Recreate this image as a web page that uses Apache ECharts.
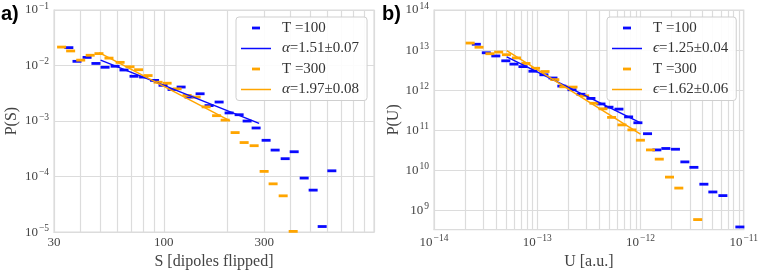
<!DOCTYPE html>
<html>
<head>
<meta charset="utf-8">
<script src="https://cdn.jsdelivr.net/npm/echarts@6/dist/echarts.min.js"></script>
<style>html,body{margin:0;padding:0;background:#fff}#c{width:761px;height:275px}</style>
</head>
<body>
<div id="c"></div>
<script>
// ---- Panel a: avalanche size S ----
const sA100 = [35.3, 38.6, 43.1, 47.5, 52.5, 58.6, 64.6, 72.1, 80.1, 90.3, 99.1, 109.4, 120.8, 131.8, 148.7, 164.1, 183.2, 204.4, 228.1, 249, 274.8, 306.6, 338.5, 377.8, 417, 465.3, 513.3, 566.8, 630];
const pA100 = [0.0210, 0.0119, 0.0140, 0.0109, 0.0093, 0.0097, 0.0083, 0.0064, 0.0062, 0.0054, 0.0044, 0.0037, 0.0041, 0.0027, 0.0031, 0.0019, 0.0022, 0.0014, 0.0013, 0.0010, 7.5e-4, 4.5e-4, 3.0e-4, 2.1e-4, 2.8e-4, 9.4e-5, 5.7e-5, 1.26e-5, 1.27e-4];
const sA300 = [32.6, 36.0, 40.2, 44.6, 49.1, 54.8, 61.9, 69.0, 75.8, 84.1, 93.8, 103.6, 115.6, 129, 142.4, 158.9, 178.2, 195.7, 218.3, 241, 268.9, 300, 331, 369.6, 412.5];
const pA300 = [0.0215, 0.0183, 0.0125, 0.0153, 0.0164, 0.0136, 0.0114, 0.0095, 0.0084, 0.0066, 0.0050, 0.0048, 0.0038, 0.0029, 0.0027, 0.0018, 0.00125, 0.00104, 6.2e-4, 4.1e-4, 3.6e-4, 1.24e-4, 7.4e-5, 4.5e-5, 1.03e-5];
const fitSA100 = [50, 284], fitPA100 = [0.0125, 9.1e-4];
const fitSA300 = [49.2, 206.6], fitPA300 = [0.0171, 1.01e-3];

// ---- Panel b: energy U ----
const uB100 = [2.57e-14, 3.21e-14, 3.97e-14, 4.96e-14, 5.95e-14, 7.27e-14, 9.09e-14, 1.16e-13, 1.42e-13, 1.73e-13, 2.17e-13, 2.65e-13, 3.31e-13, 4.14e-13, 4.95e-13, 6.18e-13, 7.67e-13, 9.44e-13, 1.17e-12, 1.44e-12, 1.76e-12, 2.18e-12, 2.69e-12, 3.29e-12, 4.11e-12, 5.02e-12, 6.28e-12, 9.17e-12];
const pB100 = [1.40e13, 8.60e12, 7.15e12, 5.42e12, 4.48e12, 3.88e12, 2.98e12, 2.43e12, 2.02e12, 1.27e12, 1.03e12, 7.96e11, 6.26e11, 4.56e11, 3.79e11, 3.39e11, 2.17e11, 1.55e11, 8.27e10, 3.26e10, 3.54e10, 3.39e10, 1.64e10, 1.20e10, 4.56e9, 2.92e9, 2.37e9, 3.92e8];
const uB300 = [2.24e-14, 2.73e-14, 3.48e-14, 4.23e-14, 5.03e-14, 6.29e-14, 7.77e-14, 9.63e-14, 1.19e-13, 1.48e-13, 1.81e-13, 2.22e-13, 2.88e-13, 3.54e-13, 4.33e-13, 5.25e-13, 6.61e-13, 8.26e-13, 9.98e-13, 1.25e-12, 1.52e-12, 1.91e-12, 2.35e-12, 3.58e-12];
const pB300 = [1.50e13, 1.18e13, 8.14e12, 8.94e12, 7.69e12, 6.40e12, 4.66e12, 3.53e12, 2.93e12, 1.84e12, 1.22e12, 1.20e12, 7.28e11, 4.74e11, 3.45e11, 2.11e11, 1.37e11, 1.03e11, 5.69e10, 3.26e10, 1.92e10, 6.85e9, 3.65e9, 5.99e8];
const fitUB100 = [5.06e-14, 1.025e-12], fitPB100 = [6.77e12, 1.49e11];
const fitUB300 = [5.06e-14, 1.0e-12], fitPB300 = [9.77e12, 8.1e10];

// ---- labels / ticks ----
const namesA = ['T =100', 'α=1.51±0.07', 'T =300', 'α=1.97±0.08'];
const namesB = ['T =100', 'ϵ=1.25±0.04', 'T =300', 'ϵ=1.62±0.06'];
const xTicksA = [30, 100, 300];
const yTicksA = [1e-5, 1e-4, 1e-3, 1e-2, 1e-1];
const xTicksB = [1e-14, 1e-13, 1e-12, 1e-11];
const yTicksB = [1e9, 1e10, 1e11, 1e12, 1e13, 1e14];

const pairs = (xs, ys) => xs.map((x, i) => [x, ys[i]]);
function minorGrid(lo, hi) {
  const out = [];
  for (let e = Math.floor(Math.log10(lo)) - 1; e <= Math.ceil(Math.log10(hi)); e++) {
    for (let k = 1; k <= 9; k++) {
      const v = Number((k * Math.pow(10, e)).toPrecision(6));
      if (v >= lo * 0.9999 && v <= hi * 1.0001) out.push(v);
    }
  }
  return out;
}
const SERIF = "'Liberation Serif', 'DejaVu Serif', serif";
const BLUE = '#0a0aff', ORANGE = '#ffa500';
const GRIDC = '#dcdcdc';
const expFmt = v => { const e = Math.round(Math.log10(v)); return '{b|10}{s|' + (e < 0 ? '\u2212' + (-e) : e) + '}'; };
const expRich = { b: { fontSize: 13, fontFamily: SERIF, color: '#444' }, s: { fontSize: 9.5, fontFamily: SERIF, color: '#444', padding: [0, 0, 8, 1] } };

function xAxis(idx, min, max, labels, grid, name, fmt) {
  return {
    type: 'log', logBase: 10, gridIndex: idx, min, max,
    name, nameLocation: 'middle', nameGap: 21,
    nameTextStyle: { fontFamily: SERIF, fontSize: 16, color: '#444' },
    axisLine: { show: true, lineStyle: { color: GRIDC } },
    axisTick: { show: false, customValues: grid },
    axisLabel: { customValues: labels, formatter: fmt, margin: 4, rich: expRich, fontFamily: SERIF, fontSize: 13, color: '#444' },
    splitLine: { show: true, lineStyle: { color: GRIDC, width: 1.2 } },
    minorTick: { show: false }, minorSplitLine: { show: false }
  };
}
function yAxis(idx, min, max, labels, name, gap) {
  return {
    type: 'log', logBase: 10, gridIndex: idx, min, max,
    name, nameLocation: 'middle', nameGap: gap, nameRotate: 90,
    nameTextStyle: { fontFamily: SERIF, fontSize: 16, color: '#444' },
    axisLine: { show: true, lineStyle: { color: GRIDC } },
    axisTick: { show: false, customValues: labels },
    axisLabel: { customValues: labels, formatter: expFmt, margin: 5, rich: expRich },
    splitLine: { show: true, lineStyle: { color: GRIDC, width: 1.2 } }
  };
}
const dashIcon = 'path://M0,0L0,0M30,14L30,14M11,5.6L19,5.6L19,8.4L11,8.4Z';
const lineIcon = 'path://M0,0L0,0M30,14L30,14M0,6.25L30,6.25L30,7.75L0,7.75Z';
function legend(left, names) {
  return {
    left, top: 17, orient: 'vertical', selectedMode: false,
    itemWidth: 30, itemHeight: 14, itemGap: 4.5, padding: [3, 8, 3, 5],
    backgroundColor: 'rgba(255,255,255,0.9)', borderColor: '#cfcfcf', borderWidth: 1, borderRadius: 3,
    data: names.map((n, i) => ({ name: n, icon: i % 2 === 0 ? dashIcon : lineIcon })),
    formatter: n => /^[αϵ]/.test(n) ? '{g|' + n[0] + '}{t|' + n.slice(1) + '}' : '{t0|' + n + '}',
    textStyle: {
      fontFamily: SERIF, fontSize: 15, color: '#333', lineHeight: 16,
      rich: {
        t0: { fontFamily: SERIF, fontSize: 15, color: '#333', padding: [0, 0, 0, 6] },
        t: { fontFamily: SERIF, fontSize: 15, color: '#333' },
        g: { fontFamily: SERIF, fontSize: 15, fontStyle: 'italic', color: '#333', padding: [0, 0, 0, 6] }
      }
    }
  };
}
function scatter(name, xi, data, color) {
  return { type: 'scatter', name, xAxisIndex: xi, yAxisIndex: xi, data, symbol: 'rect', symbolSize: [9, 2.8], itemStyle: { color, opacity: 1 }, z: 2 };
}
function fit(name, xi, data, color) {
  return { type: 'line', name, xAxisIndex: xi, yAxisIndex: xi, data, symbol: 'none', lineStyle: { color, width: 1.5 }, itemStyle: { color }, z: 3 };
}

const option = {
  animation: false,
  backgroundColor: '#fff',
  title: [
    { text: 'a)', left: 1, top: 4, padding: 0, textStyle: { fontSize: 20, fontWeight: 'bold', fontFamily: "'Liberation Sans', Arial, sans-serif", color: '#000' } },
    { text: 'b)', left: 382, top: 4, padding: 0, textStyle: { fontSize: 20, fontWeight: 'bold', fontFamily: "'Liberation Sans', Arial, sans-serif", color: '#000' } }
  ],
  grid: [
    { left: 54, top: 10, width: 320, height: 226, show: true, borderColor: GRIDC, borderWidth: 1.2 },
    { left: 434, top: 10, width: 310, height: 226, show: true, borderColor: GRIDC, borderWidth: 1.2 }
  ],
  xAxis: [
    xAxis(0, 30, 1000, xTicksA, minorGrid(30, 1000), 'S [dipoles flipped]', v => String(Math.round(v))),
    xAxis(1, 1e-14, 1e-11, xTicksB, minorGrid(1e-14, 1e-11), 'U [a.u.]', expFmt)
  ],
  yAxis: [
    yAxis(0, 1e-5, 1e-1, yTicksA, 'P(S)', 34),
    yAxis(1, 3.37e8, 1e14, yTicksB, 'P(U)', 32)
  ],
  legend: [legend(236, namesA), legend(607, namesB)],
  series: [
    scatter(namesA[0], 0, pairs(sA100, pA100), BLUE),
    fit(namesA[1], 0, pairs(fitSA100, fitPA100), BLUE),
    scatter(namesA[2], 0, pairs(sA300, pA300), ORANGE),
    fit(namesA[3], 0, pairs(fitSA300, fitPA300), ORANGE),
    scatter(namesB[0], 1, pairs(uB100, pB100), BLUE),
    fit(namesB[1], 1, pairs(fitUB100, fitPB100), BLUE),
    scatter(namesB[2], 1, pairs(uB300, pB300), ORANGE),
    fit(namesB[3], 1, pairs(fitUB300, fitPB300), ORANGE)
  ]
};
const chart = echarts.init(document.getElementById('c'), null, { renderer: 'canvas' });
chart.setOption(option);
</script>
</body>
</html>
